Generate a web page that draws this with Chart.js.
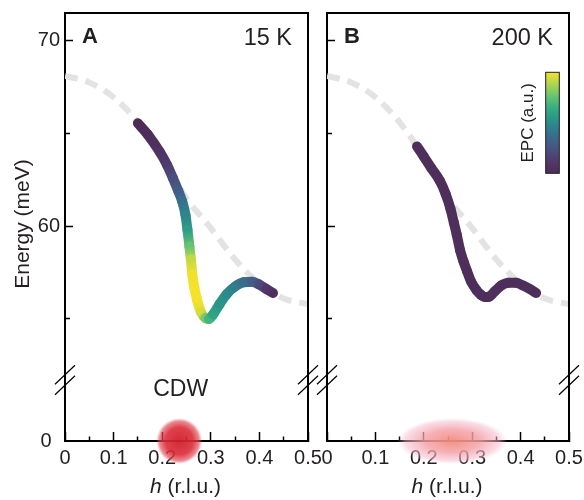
<!DOCTYPE html>
<html><head><meta charset="utf-8">
<script src="https://cdn.jsdelivr.net/npm/chart.js@4.4.1/dist/chart.umd.min.js"></script>
<style>
html,body{margin:0;padding:0;background:#fff;}
#wrap{position:relative;width:584px;height:500px;overflow:hidden;background:#fff;}
canvas{position:absolute;top:0;}
#cA{left:0;} #cB{left:300px;}
</style></head><body>
<div id="wrap"><canvas id="cA" width="340" height="500"></canvas><canvas id="cB" width="284" height="500"></canvas></div>
<script>
// ---------- data ----------
const hA   = [0.150, 0.170, 0.195, 0.210, 0.222, 0.233, 0.241, 0.248, 0.252, 0.256, 0.259, 0.262, 0.266, 0.272, 0.280, 0.289, 0.296, 0.305, 0.318, 0.333, 0.350, 0.368, 0.385, 0.400, 0.415, 0.428];
const eA   = [65.55, 64.95, 64.0, 63.3, 62.6, 61.9, 61.35, 60.6, 59.8, 58.9, 58.2, 57.4, 56.7, 56.0, 55.35, 55.05, 55.0, 55.25, 55.8, 56.35, 56.75, 56.98, 57.0, 56.85, 56.6, 56.4];
const epcA = [0.0, 0.02, 0.06, 0.13, 0.22, 0.30, 0.38, 0.47, 0.57, 0.76, 0.92, 0.99, 1.0, 1.0, 0.95, 0.80, 0.68, 0.60, 0.54, 0.50, 0.44, 0.37, 0.30, 0.20, 0.10, 0.02];

const hB   = [0.186, 0.200, 0.215, 0.233, 0.245, 0.255, 0.262, 0.268, 0.275, 0.282, 0.289, 0.298, 0.309, 0.318, 0.326, 0.335, 0.347, 0.360, 0.375, 0.390, 0.405, 0.420, 0.432];
const eB   = [64.3, 63.75, 63.15, 62.45, 61.75, 60.95, 60.2, 59.55, 58.7, 58.1, 57.6, 57.0, 56.55, 56.3, 56.18, 56.2, 56.5, 56.8, 56.95, 56.95, 56.8, 56.6, 56.4];
const epcB = [0.02, 0.02, 0.02, 0.02, 0.02, 0.02, 0.02, 0.02, 0.02, 0.02, 0.02, 0.02, 0.02, 0.02, 0.02, 0.02, 0.02, 0.02, 0.02, 0.02, 0.02, 0.02, 0.02];

const hRef = [0, 0.05, 0.10, 0.15, 0.20, 0.25, 0.30, 0.35, 0.40, 0.45, 0.50];
const eRef = [68.1, 67.75, 66.95, 65.6, 63.7, 61.5, 59.9, 58.2, 56.9, 56.1, 55.8];

const cdwH = [0.235, 0.259];
const cdwE = [0, 0];

const xTicks      = [0, 0.05, 0.1, 0.15, 0.2, 0.25, 0.3, 0.35, 0.4, 0.45, 0.5];
const xTickLabels = ['0', '', '0.1', '', '0.2', '', '0.3', '', '0.4', '', '0.5'];
const yTicks      = [55, 60, 65, 70];
const yTickLabels = ['', '60', '', '70'];
const yLowTicks   = [0];
const yLowLabels  = ['0'];

const panelLetters = ['A', 'B'];
const panelTemps   = ['15 K', '200 K'];
const xTitleItalic = 'h';
const xTitleRest   = ' (r.l.u.)';
const yTitle       = 'Energy (meV)';
const cdwLabel     = 'CDW';
const cbarLabel    = 'EPC (a.u.)';

// ---------- styling ----------
const FONT = "'Liberation Sans', Arial, Helvetica, sans-serif";
const TXT = '#231f20';
Chart.defaults.font.family = FONT;
Chart.defaults.color = TXT;

const cmapStops = [
  [0.00, [78, 43, 87]], [0.12, [80, 58, 108]], [0.25, [72, 84, 130]], [0.37, [58, 108, 140]],
  [0.50, [42, 140, 139]], [0.62, [48, 168, 132]], [0.74, [90, 192, 118]], [0.87, [165, 212, 85]], [1.00, [246, 226, 42]]
];
function epcColor(t) {
  t = Math.max(0, Math.min(1, t));
  for (let i = 1; i < cmapStops.length; i++) {
    const [t1, c1] = cmapStops[i]; const [t0, c0] = cmapStops[i - 1];
    if (t <= t1) { const f = (t - t0) / (t1 - t0); const c = c0.map((v, k) => Math.round(v + (c1[k] - v) * f)); return `rgb(${c[0]},${c[1]},${c[2]})`; }
  }
  return 'rgb(246,226,42)';
}
function segGradient(epc) {
  return c => {
    const a = epc[c.p0DataIndex], b = epc[c.p1DataIndex];
    const {p0, p1} = c;
    if (!isFinite(p0.x) || !isFinite(p1.x) || (p0.x === p1.x && p0.y === p1.y)) return epcColor((a + b) / 2);
    const g = c.chart.ctx.createLinearGradient(p0.x, p0.y, p1.x, p1.y);
    g.addColorStop(0, epcColor(a));
    g.addColorStop(1, epcColor(b));
    return g;
  };
}
function blobCircle() {
  const c = document.createElement('canvas'); c.width = 46; c.height = 46;
  const g = c.getContext('2d');
  const gr = g.createRadialGradient(23, 23, 0, 23, 23, 23);
  gr.addColorStop(0, 'rgba(210,30,44,0.95)'); gr.addColorStop(0.6, 'rgba(218,44,56,0.9)');
  gr.addColorStop(0.86, 'rgba(226,72,84,0.65)'); gr.addColorStop(1, 'rgba(235,110,120,0)');
  g.fillStyle = gr; g.beginPath(); g.arc(23, 23, 23, 0, Math.PI * 2); g.fill(); return c;
}
function blobEllipse() {
  const c = document.createElement('canvas'); c.width = 110; c.height = 46;
  const g = c.getContext('2d'); g.translate(55, 23); g.scale(55 / 23, 1);
  const gr = g.createRadialGradient(0, 0, 0, 0, 0, 23);
  gr.addColorStop(0, 'rgba(243,140,126,0.95)'); gr.addColorStop(0.5, 'rgba(243,160,165,0.82)');
  gr.addColorStop(0.85, 'rgba(245,182,202,0.5)'); gr.addColorStop(1, 'rgba(248,200,215,0)');
  g.fillStyle = gr; g.beginPath(); g.arc(0, 0, 23, 0, Math.PI * 2); g.fill(); return c;
}
function pts(hs, es) { return hs.map((h, i) => ({x: h, y: es[i]})); }

function makeChart(canvasId, p) {
  const decor = {
    id: 'decor' + p.idx,
    afterDraw(chart) {
      const {ctx, chartArea: a} = chart;
      ctx.save();
      ctx.strokeStyle = '#000'; ctx.lineWidth = 2;
      ctx.beginPath(); ctx.moveTo(a.left - 1, a.top); ctx.lineTo(a.right, a.top); ctx.lineTo(a.right, a.bottom + 1); ctx.stroke();
      const yb = chart.scales.yBot.top;
      ctx.lineWidth = 1.2;
      for (const x of [a.left, a.right]) for (const d of [-5.3, 5.3]) {
        ctx.beginPath(); ctx.moveTo(x - 10, yb + d + 9.5); ctx.lineTo(x + 10, yb + d - 9.5); ctx.stroke();
      }
      ctx.fillStyle = TXT; ctx.textBaseline = 'alphabetic';
      ctx.font = `bold 22px ${FONT}`; ctx.textAlign = 'left';
      ctx.fillText(panelLetters[p.idx], a.left + 17, 43);
      ctx.font = `23.5px ${FONT}`; ctx.textAlign = 'right';
      ctx.fillText(panelTemps[p.idx], a.right - 16, 45);
      ctx.font = `italic 21px ${FONT}`; const w1 = ctx.measureText(xTitleItalic).width;
      ctx.font = `21px ${FONT}`; const w2 = ctx.measureText(xTitleRest).width;
      const x0 = (a.left + a.right) / 2 - 1 - (w1 + w2) / 2;
      ctx.textAlign = 'left';
      ctx.font = `italic 21px ${FONT}`; ctx.fillText(xTitleItalic, x0, 493);
      ctx.font = `21px ${FONT}`; ctx.fillText(xTitleRest, x0 + w1, 493);
      if (p.idx === 0) {
        ctx.font = `23px ${FONT}`; ctx.textAlign = 'center';
        ctx.fillText(cdwLabel, chart.scales.x.getPixelForValue(cdwH[0]) + 1.5, 396);
        ctx.save(); ctx.translate(23.5, 224); ctx.rotate(-Math.PI / 2);
        ctx.font = `21px ${FONT}`; ctx.textAlign = 'center'; ctx.textBaseline = 'middle';
        ctx.fillText(yTitle, 0, 0); ctx.restore();
      } else {
        const bx = a.right - 23.3, bw = 13.6, by = 72.3, bh = 101;
        const gr = ctx.createLinearGradient(0, by + bh, 0, by);
        for (const [t, c] of cmapStops) gr.addColorStop(t, `rgb(${c[0]},${c[1]},${c[2]})`);
        ctx.fillStyle = gr; ctx.fillRect(bx, by, bw, bh);
        ctx.strokeStyle = '#231f20'; ctx.lineWidth = 1; ctx.strokeRect(bx, by, bw, bh);
        ctx.save(); ctx.translate(a.right - 40.3, by + bh / 2); ctx.rotate(-Math.PI / 2);
        ctx.fillStyle = TXT; ctx.font = `17px ${FONT}`; ctx.textAlign = 'center'; ctx.textBaseline = 'middle';
        ctx.fillText(cbarLabel, 0, 0); ctx.restore();
      }
      ctx.restore();
    }
  };
  const fitY = s => { s.width = p.yWidth; s.paddingTop = 0; s.paddingBottom = 0; };
  return new Chart(document.getElementById(canvasId), {
    type: 'line',
    data: { datasets: [
      { data: pts(p.h, p.e), xAxisID: 'x', yAxisID: 'yTop',
        borderWidth: 10, borderCapStyle: 'round', borderJoinStyle: 'round',
        borderColor: epcColor(p.epc[0]),
        segment: { borderColor: segGradient(p.epc) },
        pointRadius: 0,
        cubicInterpolationMode: 'monotone', order: 1 },
      { data: pts(hRef, eRef), xAxisID: 'x', yAxisID: 'yTop',
        borderWidth: 6, borderColor: '#e3e3e3', borderDash: [13, 8], borderCapStyle: 'butt',
        pointRadius: 0, cubicInterpolationMode: 'monotone', order: 3 },
      { data: [{x: cdwH[p.idx], y: cdwE[p.idx]}], xAxisID: 'x', yAxisID: 'yBot',
        showLine: false, pointStyle: p.blob, pointRadius: 22, clip: false, order: 0 }
    ]},
    options: {
      responsive: false, animation: false,
      layout: { autoPadding: false, padding: { left: 0, top: 13, right: p.padRight, bottom: 0 } },
      plugins: { legend: { display: false }, tooltip: { enabled: false } },
      events: [],
      scales: {
        x: { type: 'linear', position: 'bottom', min: 0, max: 0.5,
          afterBuildTicks: s => { s.ticks = xTicks.map(v => ({value: v})); },
          ticks: { autoSkip: false, maxRotation: 0, minRotation: 0, padding: 14.5, font: { size: 20 }, color: TXT, callback: (v, i) => xTickLabels[i] },
          grid: { display: true, drawOnChartArea: false, drawTicks: true, tickLength: -9, tickWidth: 1.5, tickColor: '#000',
                  tickBorderDash: c => xTickLabels[c.index] ? [] : [5.5, 50] },
          border: { display: true, color: '#000', width: 2 },
          afterFit: s => { s.height = 59; s.paddingLeft = 0; s.paddingRight = 0; } },
        yBot: { type: 'linear', position: 'left', stack: 'v', stackWeight: 61, weight: 1, min: 0, max: 1,
          afterBuildTicks: s => { s.ticks = yLowTicks.map(v => ({value: v})); },
          ticks: { display: p.labels, padding: 13.3, font: { size: 20 }, color: TXT, callback: (v, i) => yLowLabels[i] },
          grid: { display: true, drawOnChartArea: false, drawTicks: false },
          border: { display: true, color: '#000', width: 2 }, afterFit: fitY },
        yTop: { type: 'linear', position: 'left', stack: 'v', stackWeight: 367, weight: 2, min: 51.71, max: 71.49,
          afterBuildTicks: s => { s.ticks = yTicks.map(v => ({value: v})); },
          ticks: { display: p.labels, padding: 13, font: { size: 20 }, color: TXT, callback: (v, i) => yTickLabels[i] },
          grid: { display: true, drawOnChartArea: false, drawTicks: true, tickLength: -8, tickWidth: 1.5, tickColor: '#000',
                  tickBorderDash: c => yTickLabels[c.index] ? [] : [0, 3, 50] },
          border: { display: true, color: '#000', width: 2 }, afterFit: fitY }
      }
    },
    plugins: [decor]
  });
}
makeChart('cA', { idx: 0, h: hA, e: eA, epc: epcA, labels: true, yWidth: 65, padRight: 32, blob: blobCircle() });
makeChart('cB', { idx: 1, h: hB, e: eB, epc: epcB, labels: false, yWidth: 27, padRight: 15, blob: blobEllipse() });
</script>
</body></html>
